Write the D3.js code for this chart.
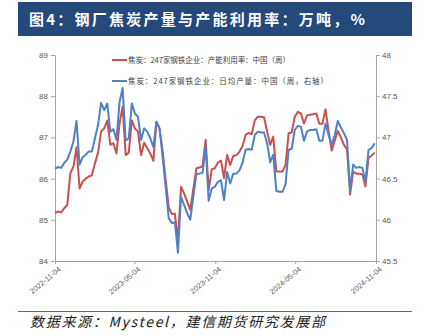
<!DOCTYPE html>
<html>
<head>
<meta charset="utf-8">
<script src="https://cdn.jsdelivr.net/npm/d3@7"></script>
<style>
  html, body { margin: 0; padding: 0; background: #ffffff; }
  svg { display: block; }
</style>
</head>
<body>
<svg id="chart" width="425" height="336"></svg>
<script>
// Weekly series, first observation on 2022-11-04
const startDate = "2022-11-04";

// 焦炭：247家钢铁企业：产能利用率（%，左轴）
const utilization = [
  85.17, 85.20, 85.18, 85.28, 85.36, 86.13, 86.29, 86.76, 85.76, 85.93,
  86.00, 86.05, 86.08, 86.37, 86.63, 87.14, 87.22, 87.41, 86.82, 86.86,
  86.61, 87.34, 87.75, 86.57, 86.63, 87.41, 87.22, 87.14, 86.57, 86.87,
  86.74, 86.61, 86.43, 87.38, 87.22, 86.68, 85.97, 85.30, 85.14, 85.15,
  84.50, 85.80, 85.64, 85.44, 85.24, 85.75, 86.25, 86.27, 86.30, 86.94,
  85.72, 86.23, 86.25, 86.39, 86.44, 86.01, 86.57, 86.33, 86.55, 86.57,
  86.65, 86.79, 87.06, 87.11, 87.08, 87.42, 87.50, 87.50, 87.49, 87.15,
  86.82, 87.02, 86.17, 86.17, 86.17, 86.33, 87.10, 87.12, 87.50, 87.62,
  87.58, 87.34, 87.53, 87.55, 87.56, 87.58, 87.33, 87.33, 87.68, 87.15,
  86.68, 86.92, 87.16, 87.00, 86.82, 86.71, 85.61, 86.17, 86.12, 86.12,
  86.10, 85.81, 86.50, 86.56, 86.63
];

// 焦炭：247家钢铁企业：日均产量（万吨，右轴）
const dailyOutput = [
  46.62, 46.64, 46.63, 46.69, 46.73, 46.83, 46.95, 47.20, 46.67, 46.76,
  46.79, 46.83, 46.83, 46.99, 47.15, 47.42, 47.33, 47.41, 47.07, 47.10,
  46.97, 47.43, 47.60, 46.96, 46.99, 47.41, 47.29, 47.25, 46.97, 47.11,
  47.07, 46.99, 46.88, 47.19, 47.11, 46.77, 46.40, 46.02, 45.96, 45.97,
  45.60, 46.28, 46.18, 46.08, 46.00, 46.28, 46.56, 46.56, 46.57, 46.89,
  46.23, 46.38, 46.40, 46.46, 46.48, 46.24, 46.58, 46.44, 46.56, 46.56,
  46.60, 46.69, 46.85, 46.86, 46.85, 47.03, 47.07, 47.06, 47.06, 46.93,
  46.70, 46.79, 46.35, 46.34, 46.34, 46.43, 46.85, 46.86, 47.09, 47.14,
  47.13, 46.96, 47.07, 47.09, 47.09, 47.10, 46.96, 46.96, 47.17, 47.03,
  46.91, 47.03, 47.20, 47.12, 47.05, 46.97, 46.36, 46.67, 46.63, 46.64,
  46.63, 46.46, 46.85, 46.87, 46.93
];

const xTickLabels = ["2022-11-04", "2023-05-04", "2023-11-04", "2024-05-04", "2024-11-04"];
const leftTicks = [84, 85, 86, 87, 88, 89];
const rightTicks = [45.5, 46, 46.5, 47, 47.5, 48];

const seriesNames = [
  "焦炭：247家钢铁企业：产能利用率：中国（周）",
  "焦炭：247家钢铁企业：日均产量：中国（周，右轴）"
];
const titleText = "图4：钢厂焦炭产量与产能利用率：万吨，%";
const sourceText = "数据来源：Mysteel，建信期货研究发展部";

const RED = "#C8504D";
const BLUE = "#4F81C4";
const AXIS = "#A6A6A6";
const LABEL = "#595959";

const parse = d3.timeParse("%Y-%m-%d");
const fmt = d3.timeFormat("%Y-%m-%d");
const t0 = parse(startDate);
const dates = utilization.map((_, i) => d3.timeDay.offset(t0, 7 * i));

const svg = d3.select("#chart");

// Header band
svg.append("rect")
  .attr("x", 18).attr("y", 2).attr("width", 394).attr("height", 34)
  .attr("fill", "#24497B");
svg.append("text")
  .attr("x", 29).attr("y", 25)
  .attr("fill", "#ffffff")
  .attr("font-family", "'Noto Sans CJK SC', sans-serif")
  .attr("font-weight", "bold")
  .attr("font-size", 15)
  .attr("textLength", 336)
  .attr("lengthAdjust", "spacing")
  .text(titleText);

// Plot area
const plot = { left: 55, right: 376, top: 55, bottom: 261 };

const x = d3.scaleTime()
  .domain([parse(xTickLabels[0]), parse(xTickLabels[xTickLabels.length - 1])])
  .range([plot.left, plot.right]);
const yL = d3.scaleLinear().domain([84, 89]).range([plot.bottom, plot.top]);
const yR = d3.scaleLinear().domain([45.5, 48]).range([plot.bottom, plot.top]);

function styleAxis(g) {
  g.select(".domain").attr("stroke", AXIS);
  g.selectAll(".tick line").attr("stroke", AXIS);
  g.selectAll(".tick text")
    .attr("fill", LABEL)
    .attr("font-family", "'Liberation Sans', Arial, sans-serif")
    .attr("font-size", 8);
}

const gL = svg.append("g")
  .attr("transform", `translate(${plot.left},0)`)
  .call(d3.axisLeft(yL).tickValues(leftTicks).tickSize(4).tickPadding(3).tickSizeOuter(0)
    .tickFormat(d3.format("d")));
styleAxis(gL);

const gR = svg.append("g")
  .attr("transform", `translate(${plot.right},0)`)
  .call(d3.axisRight(yR).tickValues(rightTicks).tickSize(4).tickPadding(2).tickSizeOuter(0)
    .tickFormat(d => String(d)));
styleAxis(gR);

const gX = svg.append("g")
  .attr("transform", `translate(0,${plot.bottom})`)
  .call(d3.axisBottom(x).tickValues(xTickLabels.map(parse)).tickSize(3).tickSizeOuter(0)
    .tickFormat(fmt));
styleAxis(gX);
gX.selectAll(".tick text")
  .attr("x", 0).attr("y", 0).attr("dy", 0)
  .attr("font-size", 7.5)
  .attr("text-anchor", "end")
  .attr("transform", "translate(6,9) rotate(-40)");

// Series
const lineL = d3.line().x((d, i) => x(dates[i])).y(d => yL(d));
const lineR = d3.line().x((d, i) => x(dates[i])).y(d => yR(d));

svg.append("path")
  .datum(utilization)
  .attr("d", lineL)
  .attr("fill", "none")
  .attr("stroke", RED)
  .attr("stroke-width", 2)
  .attr("stroke-linejoin", "round");

svg.append("path")
  .datum(dailyOutput)
  .attr("d", lineR)
  .attr("fill", "none")
  .attr("stroke", BLUE)
  .attr("stroke-width", 2)
  .attr("stroke-linejoin", "round");

// Legend
const legend = [
  { name: seriesNames[0], color: RED, y: 60, len: 162 },
  { name: seriesNames[1], color: BLUE, y: 81, len: 200 }
];
legend.forEach(l => {
  svg.append("line")
    .attr("x1", 112).attr("x2", 127).attr("y1", l.y).attr("y2", l.y)
    .attr("stroke", l.color).attr("stroke-width", 2);
  svg.append("text")
    .attr("x", 128).attr("y", l.y + 2.8)
    .attr("fill", "#404040")
    .attr("font-family", "'Noto Sans CJK SC', sans-serif")
    .attr("font-size", 7.5)
    .attr("textLength", l.len)
    .attr("lengthAdjust", "spacing")
    .text(l.name);
});

// Footer
svg.append("line")
  .attr("x1", 18).attr("x2", 412).attr("y1", 311.5).attr("y2", 311.5)
  .attr("stroke", "#4A6A98").attr("stroke-width", 1);
svg.append("text")
  .attr("x", 30).attr("y", 327)
  .attr("fill", "#222222")
  .attr("font-family", "'Noto Sans CJK SC', sans-serif")
  .attr("font-style", "italic")
  .attr("font-size", 14)
  .attr("textLength", 295)
  .attr("lengthAdjust", "spacing")
  .text(sourceText);
</script>
</body>
</html>
